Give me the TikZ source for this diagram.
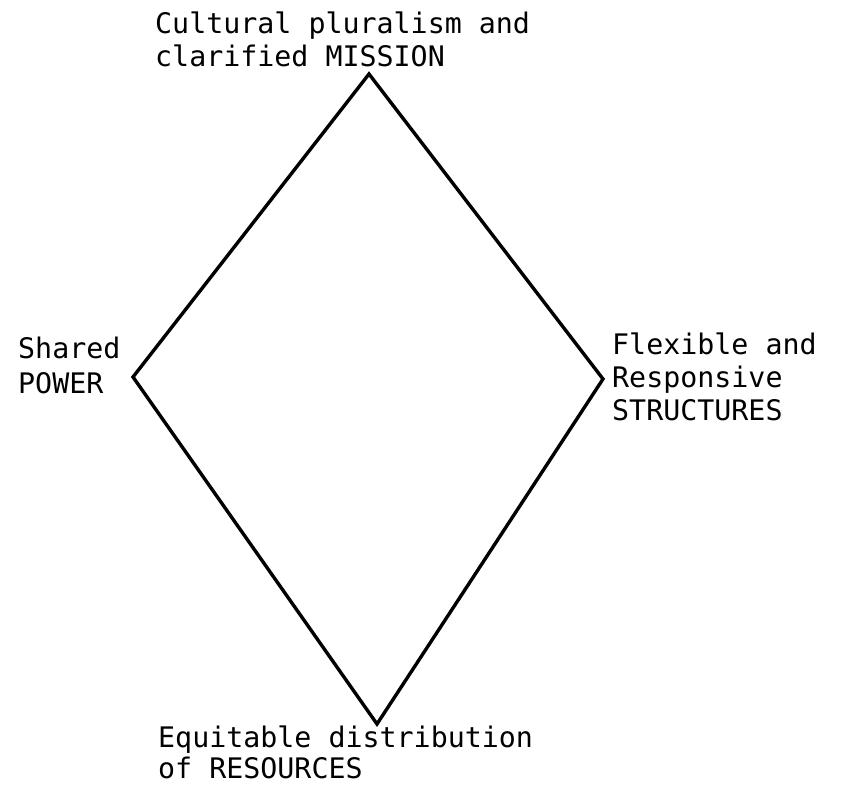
\documentclass[tikz,border=0pt]{standalone}
\usepackage{fontspec}
\newfontfamily\labelfont{DejaVu Sans Mono}
\begin{document}
\begin{tikzpicture}[x=1pt,y=-1pt,
  edge/.style={line width=3.4pt,line join=miter,line cap=round,black},
  lbl/.style={anchor=base west,inner sep=0pt,font=\labelfont\fontsize{28.3}{33}\selectfont}]
\useasboundingbox (0,0) rectangle (844,787);
% corners of the diamond
\coordinate (mission)    at (369,74);
\coordinate (power)      at (133,377);
\coordinate (structures) at (603,379);
\coordinate (resources)  at (377,724);
\draw[edge] (mission) -- (structures) -- (resources) -- (power) -- cycle;
% labels at the four corners
\node[lbl] (m1) at (155,34) {Cultural pluralism and};
\node[lbl] (m2) at (155,66) {clarified MISSION};
\node[lbl] (p1) at (18,358) {Shared};
\node[lbl] (p2) at (18,393) {POWER};
\node[lbl] (s1) at (612,354) {Flexible and};
\node[lbl] (s2) at (612,387) {Responsive};
\node[lbl] (s3) at (612,420) {STRUCTURES};
\node[lbl] (r1) at (158,747) {Equitable distribution};
\node[lbl] (r2) at (158,778) {of RESOURCES};
\end{tikzpicture}
\end{document}
